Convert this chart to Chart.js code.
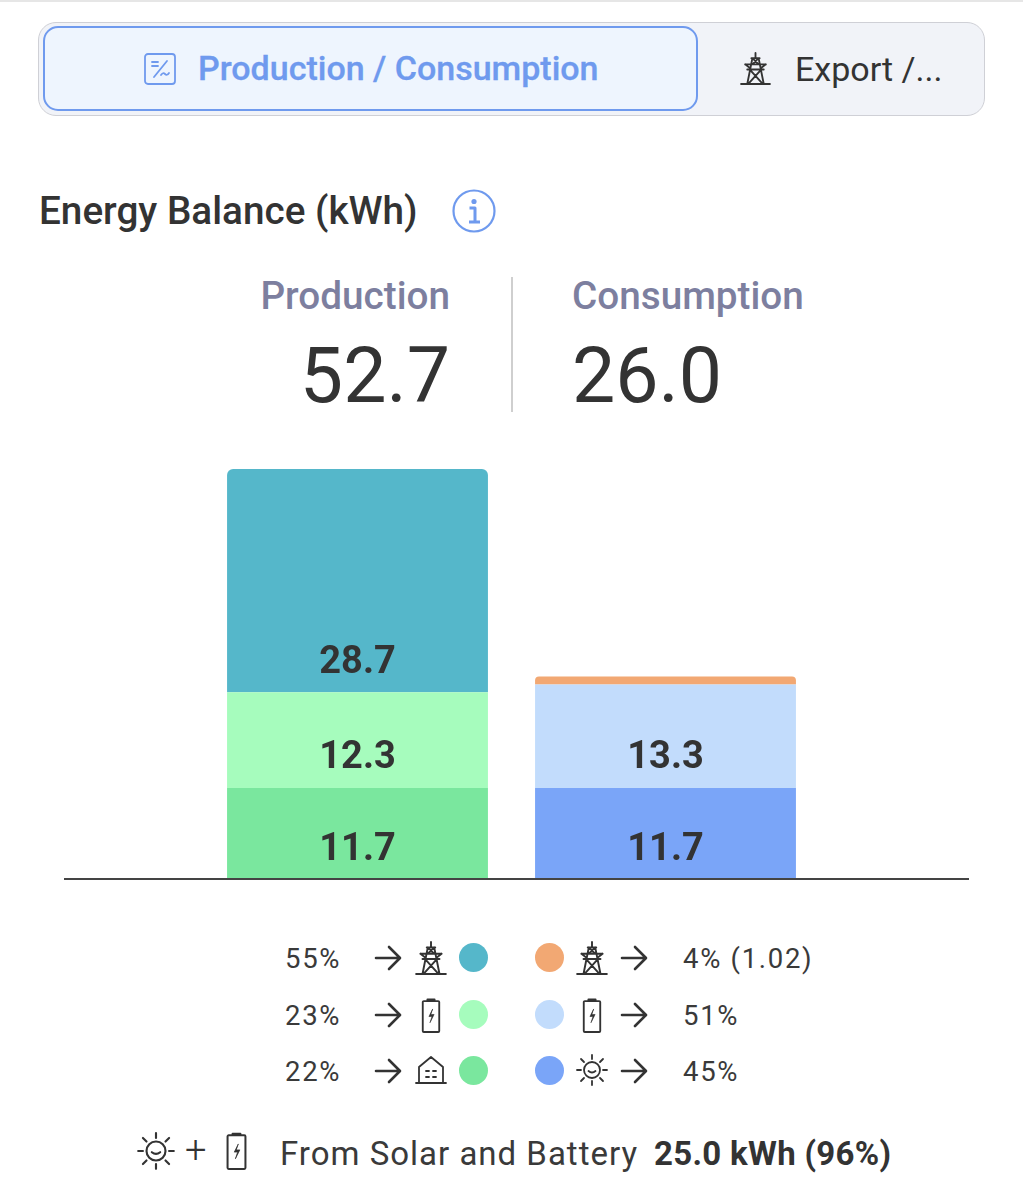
<!DOCTYPE html>
<html>
<head>
<meta charset="utf-8">
<title>Energy Balance</title>
<script src="https://cdn.jsdelivr.net/npm/chart.js@4"></script>
<style>
  html, body { margin: 0; padding: 0; background: #fff; }
  body { position: relative; width: 1023px; height: 1200px; overflow: hidden; font-family: Roboto, sans-serif; color: #333; }
  .abs { position: absolute; white-space: nowrap; line-height: 1; }
  .topline { position: absolute; left: 0; top: 0; width: 1023px; height: 2px; background: #e6e6e6; }
  .tabs { position: absolute; left: 38px; top: 22px; width: 945px; height: 92px; background: #f1f3f8; border: 1px solid #cfd0d6; border-radius: 18px; }
  .tab-on { position: absolute; left: 43px; top: 26px; width: 651px; height: 81px; background: #eef5fe; border: 2px solid #6f9aee; border-radius: 15px; }
  .legend-text { font-size: 27.5px; letter-spacing: 1.7px; color: #3a3a3a; }
  .dot { position: absolute; width: 29px; height: 29px; border-radius: 50%; }
  svg { position: absolute; overflow: visible; fill: none; stroke: #333; stroke-width: 1.8; stroke-linecap: round; stroke-linejoin: round; }
</style>
</head>
<body>
<div class="topline"></div>
<div class="tabs"></div>
<div class="tab-on"></div>

<svg style="left:144px;top:53px" width="32" height="32" viewBox="0 0 32 32" stroke="#6f9aee">
  <rect x="1" y="1" width="30" height="30" rx="3" style="stroke:#6f9aee"/>
  <path d="M8 9h6M8 13h6M23 8L10 24M17 22q2-3 4-1t4-1" style="stroke:#6f9aee"/>
</svg>
<div class="abs" style="left:198px;top:51px;font-size:34px;font-weight:500;color:#6f9aee;-webkit-text-stroke:.3px #6f9aee">Production / Consumption</div>

<svg style="left:740px;top:52px" width="31" height="33" viewBox="0 0 30 32"><use href="#tower"/></svg>
<div class="abs" style="left:795px;top:52px;font-size:34px;color:#333">Export /...</div>

<div class="abs" style="left:39px;top:192px;font-size:38.7px;font-weight:500;color:#333">Energy Balance (kWh)</div>
<svg style="left:452px;top:189px" width="44" height="44" viewBox="0 0 44 44">
  <circle cx="22" cy="22" r="20.5" style="stroke:#6f9aee;stroke-width:2.2"/>
  <circle cx="22" cy="12.5" r="2.6" style="fill:#6f9aee;stroke:none"/>
  <path d="M17.5 19h5.5v14M17 33h11" style="stroke:#6f9aee;stroke-width:3;stroke-linecap:butt"/>
</svg>

<div class="abs" id="prodTitle" style="right:573px;top:277px;font-size:38.7px;font-weight:500;color:#7d7f9f"></div>
<div class="abs" id="prodTotal" style="right:573px;top:338px;font-size:77px;color:#333"></div>
<div style="position:absolute;left:511px;top:277px;width:2px;height:135px;background:#cfcfcf"></div>
<div class="abs" id="consTitle" style="left:572px;top:277px;font-size:38.7px;font-weight:500;color:#7d7f9f"></div>
<div class="abs" id="consTotal" style="left:572px;top:338px;font-size:77px;color:#333"></div>

<canvas id="balanceChart" width="905" height="425" style="position:absolute;left:64px;top:460px"></canvas>

<div id="legend"></div>

<svg style="left:137px;top:1132px" width="38" height="38" viewBox="0 0 32 32"><use href="#sun"/></svg>
<div class="abs" style="left:185px;top:1131px;font-size:38px;font-weight:300;color:#333">+</div>
<svg style="left:225px;top:1132px" width="23" height="38" viewBox="0 0 19 34"><use href="#battery"/></svg>
<div class="abs" style="left:280px;top:1137px;font-size:33px;letter-spacing:1px;color:#3a3a3a">From Solar and Battery</div>
<div class="abs" style="left:654px;top:1137px;font-size:33px;font-weight:700;letter-spacing:.3px;color:#333">25.0 kWh (96%)</div>

<svg width="0" height="0" style="left:0;top:0">
  <defs>
    <g id="tower">
      <path d="M1 31h28M15 1v5M11 6h8M5 12h20M7 17h16M12 6L7 31M18 6l5 25M9.500 17L22 31M20.500 17L8 31M12 6l6 6M18 6l-6 6M5 12l4 3M25 12l-4 3"/>
    </g>
    <g id="battery">
      <path d="M2.500 3h14a1 1 0 0 1 1 1v28a1 1 0 0 1-1 1h-14a1 1 0 0 1-1-1V4a1 1 0 0 1 1-1zM6 3V1.500h7V3"/>
      <path d="M11 11l-3.500 7h3l-2 6 4-8h-3z" style="fill:#333;stroke-width:.6"/>
    </g>
    <g id="house">
      <path d="M1 27h30M4 27V11L16 1l12 10v16M11 15h3M18 15h3M11 21h3M18 21h3"/>
    </g>
    <g id="sun">
      <circle cx="16" cy="16" r="8"/>
      <path d="M16 1v4M16 27v4M1 16h4M27 16h4M5 5l3 3M24 24l3 3M27 5l-3 3M8 24l-3 3M12.500 17q3.500 3 7 0"/>
    </g>
    <g id="arrow">
      <path d="M1 12h23M14 1l11 11-11 11"/>
    </g>
  </defs>
</svg>

<script>
const categories = ['Production', 'Consumption'];
const totals = ['52.7', '26.0'];

// bottom to top in each bar
const toHome = [11.7, null];
const toBattery = [12.3, null];
const toGrid = [28.7, null];
const fromSolar = [null, 11.7];
const fromBattery = [null, 13.3];
const fromGrid = [null, 1.02];

const legendLeftText = ['55%', '23%', '22%'];
const legendLeftIcons = ['tower', 'battery', 'house'];
const legendLeftColors = ['#55b7ca', '#a6fcbd', '#7ae79e'];
const legendRightText = ['4% (1.02)', '51%', '45%'];
const legendRightIcons = ['tower', 'battery', 'sun'];
const legendRightColors = ['#f2a873', '#c2dcfc', '#7aa5f8'];

document.getElementById('prodTitle').textContent = categories[0];
document.getElementById('consTitle').textContent = categories[1];
document.getElementById('prodTotal').textContent = totals[0];
document.getElementById('consTotal').textContent = totals[1];

// legend rows
const iconBox = {
  tower: { w: 32, h: 34, view: '0 0 30 32', dy: 0 },
  battery: { w: 20, h: 35, view: '0 0 19 34', dy: 0 },
  house: { w: 32, h: 28, view: '0 0 32 28', dy: -1 },
  sun: { w: 32, h: 32, view: '0 0 32 32', dy: -1 }
};
const rowY = [958, 1015, 1071];

function icon(name, cx, cy) {
  const b = iconBox[name];
  return `<svg style="left:${cx - b.w / 2}px;top:${cy - b.h / 2 + b.dy}px" width="${b.w}" height="${b.h}" viewBox="${b.view}"><use href="#${name}"/></svg>`;
}
function arrow(x, cy) {
  return `<svg style="left:${x}px;top:${cy - 12}px;stroke-width:2.6" width="26" height="24" viewBox="0 0 26 24"><use href="#arrow"/></svg>`;
}

let legendHtml = '';
rowY.forEach((y, i) => {
  legendHtml += `<div class="abs legend-text" style="left:285px;top:${y - 13}px">${legendLeftText[i]}</div>`;
  legendHtml += arrow(375, y);
  legendHtml += icon(legendLeftIcons[i], 431, y);
  legendHtml += `<div class="dot" style="left:459px;top:${y - 15}px;background:${legendLeftColors[i]}"></div>`;
  legendHtml += `<div class="dot" style="left:535px;top:${y - 15}px;background:${legendRightColors[i]}"></div>`;
  legendHtml += icon(legendRightIcons[i], 592, y);
  legendHtml += arrow(621, y);
  legendHtml += `<div class="abs legend-text" style="left:683px;top:${y - 13}px">${legendRightText[i]}</div>`;
});
document.getElementById('legend').innerHTML = legendHtml;

// baseline across the whole canvas + value labels near the bottom of each segment
const balancePlugin = {
  id: 'balancePlugin',
  afterDraw(chart) {
    const c = chart.ctx;
    const y0 = chart.scales.y.getPixelForValue(0);
    c.save();
    c.strokeStyle = '#444';
    c.lineWidth = 2;
    c.beginPath();
    c.moveTo(0, y0);
    c.lineTo(chart.width, y0);
    c.stroke();

    c.fillStyle = '#333';
    c.font = '700 38px Roboto';
    c.textAlign = 'center';
    c.textBaseline = 'middle';
    chart.data.datasets.forEach((ds, i) => {
      chart.getDatasetMeta(i).data.forEach((bar, j) => {
        const v = ds.data[j];
        if (v === null || v < 2) return;
        c.fillText(v.toFixed(1), bar.x, bar.base - 29);
      });
    });
    c.restore();
  }
};

const seg = (label, data, color, top) => ({
  label: label,
  data: data,
  backgroundColor: color,
  borderWidth: 0,
  borderSkipped: false,
  borderRadius: top ? { topLeft: 6, topRight: 6, bottomLeft: 0, bottomRight: 0 } : 0
});

new Chart(document.getElementById('balanceChart').getContext('2d'), {
  type: 'bar',
  data: {
    labels: categories,
    datasets: [
      seg('To home', toHome, legendLeftColors[2], false),
      seg('To battery', toBattery, legendLeftColors[1], false),
      seg('To grid', toGrid, legendLeftColors[0], true),
      seg('From solar', fromSolar, legendRightColors[2], false),
      seg('From battery', fromBattery, legendRightColors[1], false),
      seg('From grid', fromGrid, legendRightColors[0], true)
    ]
  },
  options: {
    responsive: false,
    animation: false,
    devicePixelRatio: 1,
    layout: { padding: { left: 139.5, right: 149.5, top: 9, bottom: 6 } },
    categoryPercentage: 1,
    barPercentage: 0.847,
    plugins: { legend: { display: false }, tooltip: { enabled: false } },
    scales: {
      x: { stacked: true, display: false },
      y: { stacked: true, display: false, min: 0, max: 52.7 }
    }
  },
  plugins: [balancePlugin]
});
</script>
</body>
</html>
